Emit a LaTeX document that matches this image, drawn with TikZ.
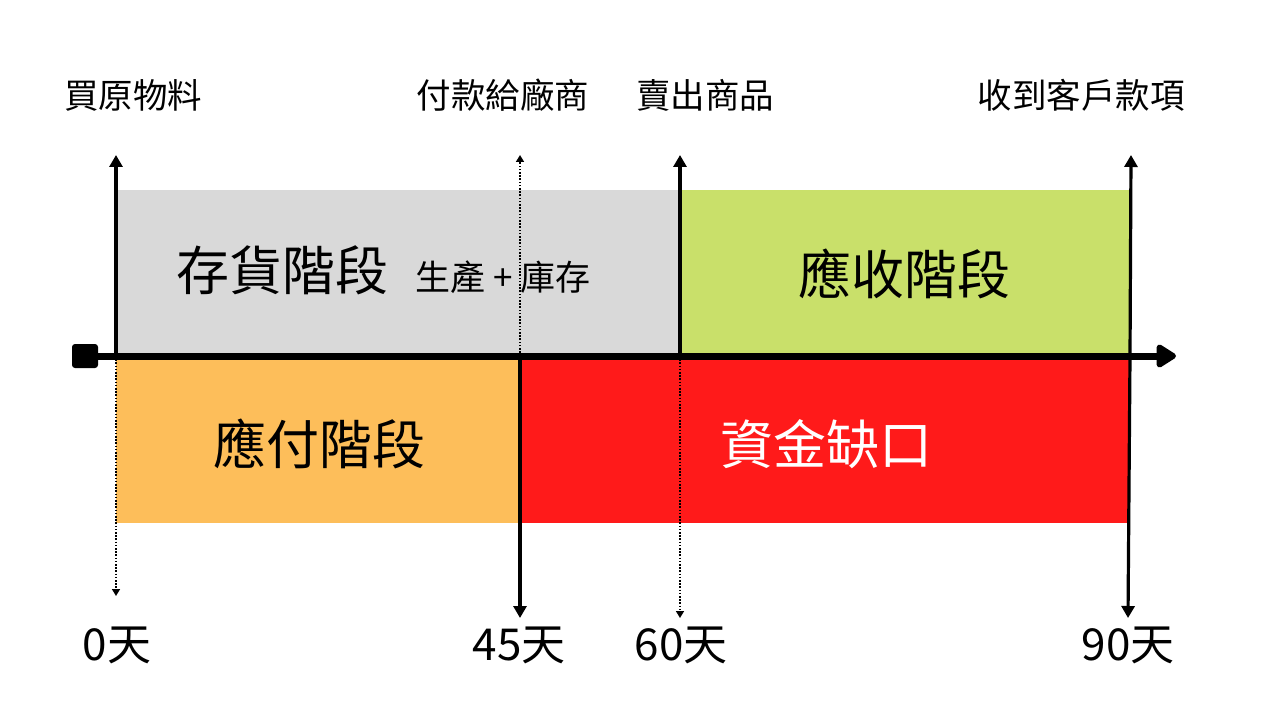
\documentclass[tikz,border=0pt]{standalone}
\usepackage{fontspec}
\setmainfont{Noto Sans CJK TC}
\usetikzlibrary{arrows.meta}
\definecolor{invgray}{HTML}{D9D9D9}
\definecolor{argreen}{HTML}{C9E06A}
\definecolor{aporange}{HTML}{FDBE5A}
\definecolor{gapred}{HTML}{FF1A1A}
\tikzset{
  toplabel/.style={font=\fontsize{34.5}{40}\selectfont, inner sep=0pt},
  daylabel/.style={font=\fontsize{44}{50}\selectfont, inner sep=0pt},
  stagelabel/.style={font=\fontsize{53}{60}\selectfont, inner sep=0pt},
  sublabel/.style={font=\fontsize{35}{40}\selectfont, inner sep=0pt},
  solidarrow/.style={line width=3.2pt, -{Triangle[length=12pt,width=13pt]}},
  dotarrow/.style={line width=1.6pt, dash pattern=on 1.6pt off 1.6pt, -{Triangle[length=7pt,width=8pt]}},
  axisline/.style={line width=7pt, -{Triangle[length=22pt,width=26pt,round]}},
}
\begin{document}
\begin{tikzpicture}[x=1pt,y=-1pt]
\useasboundingbox (0,0) rectangle (1268,714);
% stage boxes
\fill[invgray] (116,190) rectangle (680,354);
\fill[argreen] (680,190) rectangle (1130,354);
\fill[aporange] (116,358) rectangle (520,523);
\fill[gapred] (520,358) rectangle (1130,523);
% coordinates on the axis
\coordinate (a0) at (116,356);
\coordinate (a45) at (520,356);
\coordinate (a60) at (680,356);
\coordinate (a90) at (1130,356);
\coordinate (t0) at (116,155);
\coordinate (t45) at (520,155);
\coordinate (t60) at (680,155);
\coordinate (t90) at (1131,155);
\coordinate (b0) at (116,596);
\coordinate (b45) at (520,618);
\coordinate (b60) at (680,618);
\coordinate (b90) at (1128,618);
\coordinate (axstart) at (84,356);
\coordinate (axend) at (1176,356);
% vertical markers
\draw[solidarrow] (a0) -- (t0);
\draw[dotarrow] (a0) -- (b0);
\draw[dotarrow] (a45) -- (t45);
\draw[solidarrow] (a45) -- (b45);
\draw[solidarrow] (a60 |- 0,354) -- (t60);
\draw[dotarrow] (a60) -- (b60);
\draw[solidarrow] (a90) -- (t90);
\draw[solidarrow] (a90) -- (b90);
% axis
\draw[axisline] (axstart) -- (axend);
\node[fill=black, minimum width=26pt, minimum height=24pt, rounded corners=3pt, inner sep=0pt] (start) at (85,356) {};
% labels
\node[toplabel] (l0) at (133,95) {買原物料};
\node[toplabel] (l45) at (503,95) {付款給廠商};
\node[toplabel] (l60) at (705,95) {賣出商品};
\node[toplabel] (l90) at (1081,95) {收到客戶款項};
\node[stagelabel] (inv) at (282,270) {存貨階段};
\node[sublabel] (prod) at (503,277) {生產 + 庫存};
\node[stagelabel] (ar) at (904,274) {應收階段};
\node[stagelabel] (ap) at (319,444) {應付階段};
\node[stagelabel, text=white] (gap) at (826,444) {資金缺口};
\node[daylabel] (d0) at (117,645) {0天};
\node[daylabel] (d45) at (519,645) {45天};
\node[daylabel] (d60) at (681,645) {60天};
\node[daylabel] (d90) at (1128,645) {90天};
\end{tikzpicture}
\end{document}
